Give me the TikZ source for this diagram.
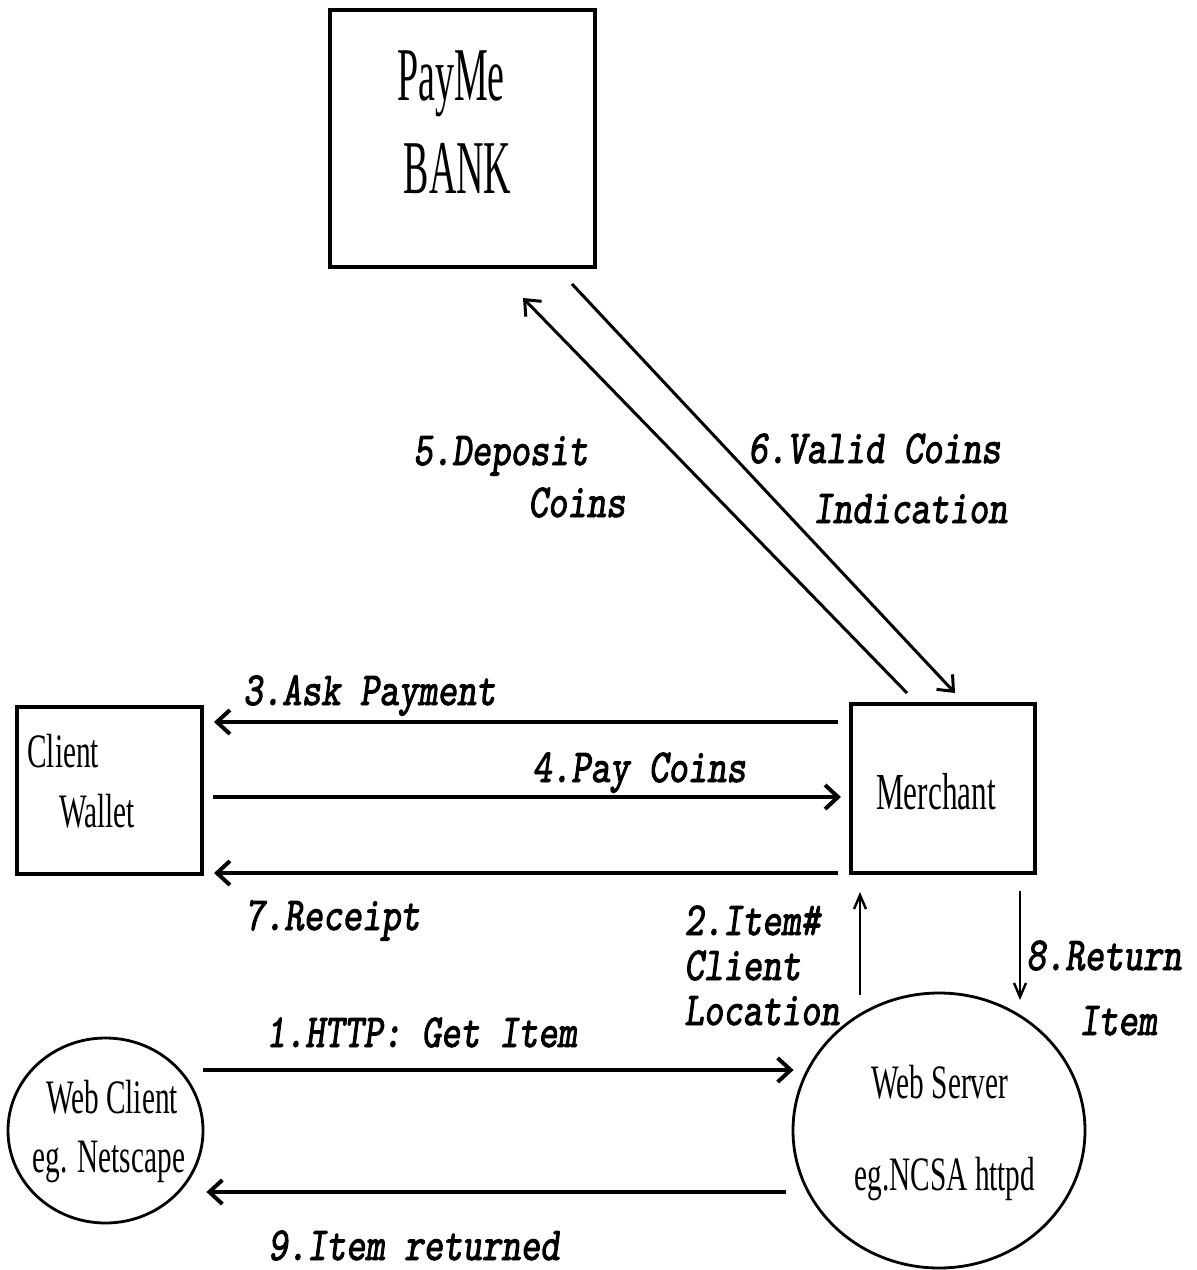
\documentclass[tikz,border=0pt]{standalone}
\usepackage{fontspec}
\usetikzlibrary{arrows.meta,shapes.geometric}
\newfontfamily\serifn{Liberation Serif}[FakeStretch=0.61]
\newfontfamily\serifm{Liberation Serif}[FakeStretch=0.6]
\newfontfamily\bankf{Liberation Serif}[FakeStretch=0.5]
\newfontfamily\monol{lmmonoslant10-regular.otf}[FakeStretch=0.78,FakeBold=2]
\tikzset{
  boxnode/.style={draw, line width=2pt, inner sep=0pt},
  ovalnode/.style={draw, ellipse, line width=1.4pt, inner sep=0pt},
  txt/.style={inner sep=0pt, anchor=base, font=\serifn\fontsize{24pt}{28pt}\selectfont},
  lbl/.style={inner sep=0pt, anchor=base west, font=\monol\fontsize{23.7pt}{28pt}\selectfont},
  arr/.style={line width=2pt, -{Straight Barb[length=6.5pt,width=12pt]}},
  darr/.style={line width=1.5pt, -{Straight Barb[length=6.5pt,width=11pt]}},
  varr/.style={line width=1.2pt, -{Straight Barb[length=7pt,width=6pt]}}
}
\begin{document}
\begin{tikzpicture}[x=0.5pt,y=-0.5pt]
\useasboundingbox (0,0) rectangle (1196,1270);
% boxes and ellipses
\node[boxnode, minimum width=132.5pt, minimum height=128.5pt] (bank) at (462.5,138.5) {};
\node[boxnode, minimum width=92.5pt, minimum height=83.5pt] (wallet) at (109.5,790.5) {};
\node[boxnode, minimum width=92pt, minimum height=84.5pt] (merch) at (943,788.5) {};
\node[ovalnode, minimum width=97.5pt, minimum height=92.5pt] (wclient) at (105.5,1130.5) {};
\node[ovalnode, minimum width=146pt, minimum height=137.5pt] (wserver) at (939,1130.5) {};
% node texts
\node[txt, font=\bankf\fontsize{38pt}{44pt}\selectfont] (t1) at (451,100) {PayMe};
\node[txt, font=\bankf\fontsize{38pt}{44pt}\selectfont] (t2) at (457.5,193) {BANK};
\node[txt, anchor=base west] (t3) at (27,767) {Client};
\node[txt, anchor=base west] (t4) at (59,827) {Wallet};
\node[txt, font=\serifm\fontsize{26pt}{30pt}\selectfont] (t5) at (936,809) {Merchant};
\node[txt] (t6) at (112,1113) {Web Client};
\node[txt] (t7) at (109,1172) {eg. Netscape};
\node[txt] (t8) at (940,1098) {Web Server};
\node[txt] (t9) at (945,1190) {eg.NCSA httpd};
% connector end points
\coordinate (b5s) at (907,693);
\coordinate (b5e) at (523,298);
\coordinate (b6s) at (572,284);
\coordinate (b6e) at (955,693);
\coordinate (h1s) at (203,1070);
\coordinate (v2s) at (860,995);
\coordinate (v8e) at (1020,1000);
% horizontal connectors
\draw[arr] ([xshift=-5.5pt]merch.west |- 0,722) -- ([xshift=5pt]wallet.east |- 0,722);
\draw[arr] ([xshift=4.5pt]wallet.east |- 0,797) -- ([xshift=-4pt]merch.west |- 0,797);
\draw[arr] ([xshift=-5.5pt]merch.west |- 0,873) -- ([xshift=5pt]wallet.east |- 0,873);
\draw[arr] (h1s) -- ([xshift=1pt]wserver.west |- h1s);
\draw[arr] ([xshift=-3pt]wserver.west |- 0,1192) -- ([xshift=1pt]wclient.east |- 0,1192);
% diagonal connectors
\draw[darr] (b5s) -- (b5e);
\draw[darr] (b6s) -- (b6e);
% vertical connectors
\draw[varr] (v2s) -- ([yshift=-8.5pt]merch.south -| v2s);
\draw[varr] ([yshift=-8pt]merch.south -| v8e) -- (v8e);
% labels
\node[lbl] (l3) at (243,705) {3.Ask Payment};
\node[lbl] (l4) at (532,782) {4.Pay Coins};
\node[lbl] (l7) at (245,930) {7.Receipt};
\node[lbl] (l5a) at (413,465) {5.Deposit};
\node[lbl] (l5b) at (528,517) {Coins};
\node[lbl] (l6a) at (748,463) {6.Valid Coins};
\node[lbl] (l6b) at (813,523) {Indication};
\node[lbl] (l2a) at (684,935) {2.Item\#};
\node[lbl] (l2b) at (684,980) {Client};
\node[lbl] (l2c) at (684,1025) {Location};
\node[lbl] (l8a) at (1026,970) {8.Return};
\node[lbl] (l8b) at (1079,1035) {Item};
\node[lbl] (l1) at (266,1047) {1.HTTP: Get Item};
\node[lbl] (l9) at (268,1260) {9.Item returned};
\end{tikzpicture}
\end{document}
